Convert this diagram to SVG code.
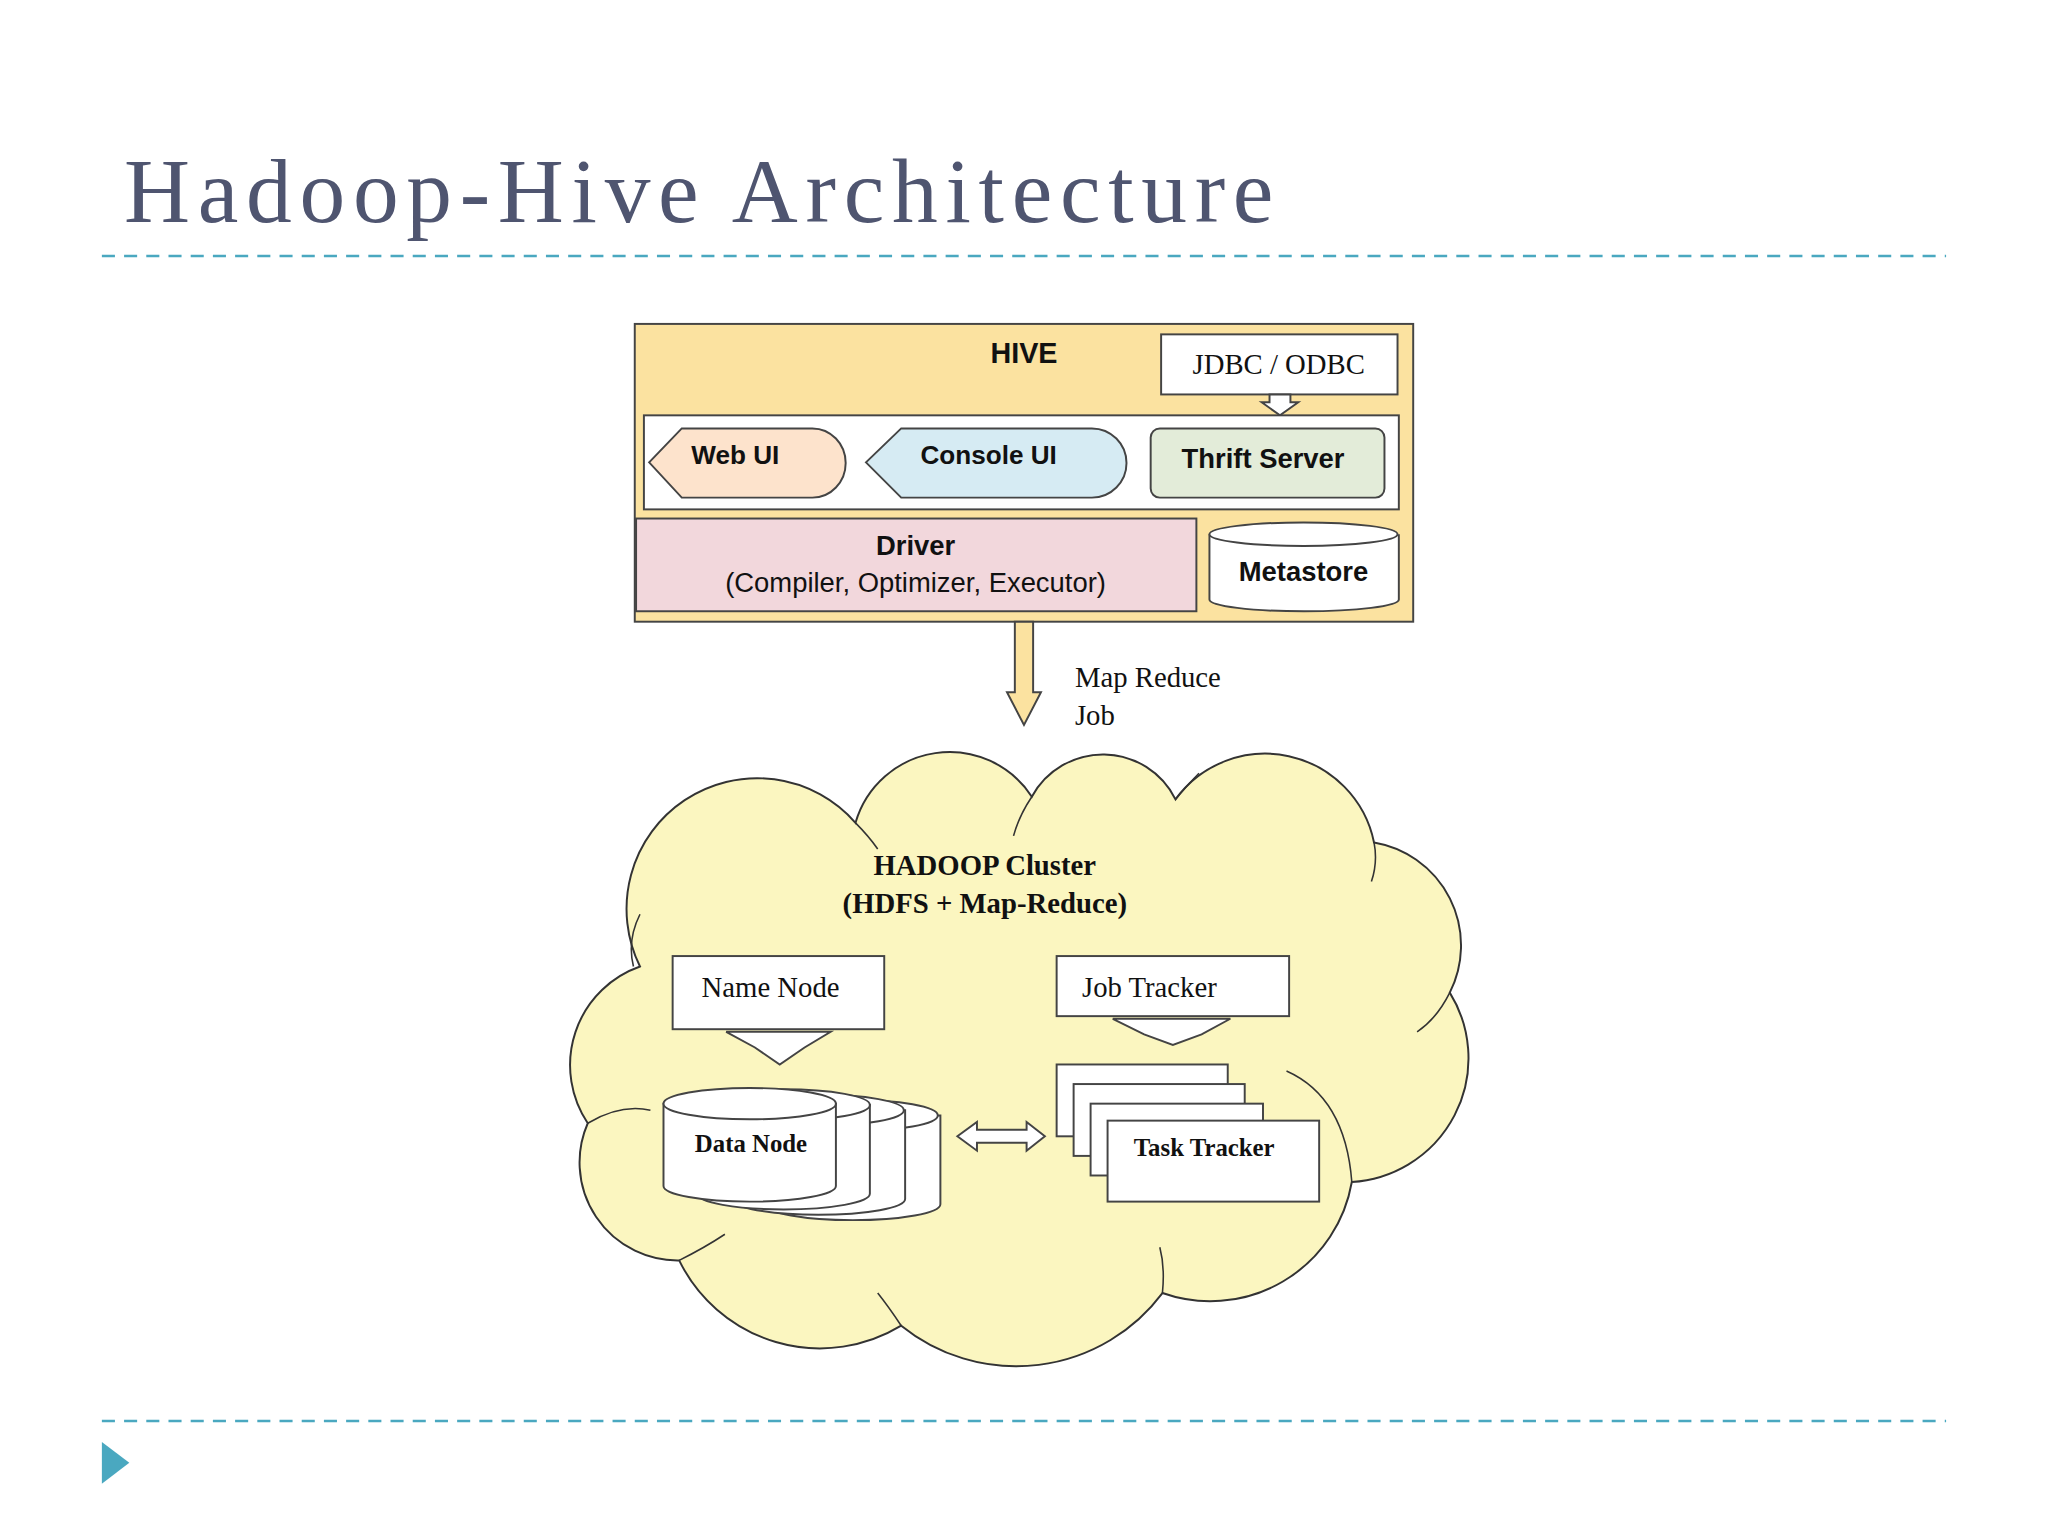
<svg xmlns="http://www.w3.org/2000/svg" width="2048" height="1536" viewBox="0 0 2048 1536">
<style>
.s{font-family:"Liberation Sans",Arial,sans-serif;fill:#111}
.r{font-family:"Liberation Serif","Times New Roman",serif;fill:#111}
.b{stroke:#444;stroke-width:1.5}
.dash{stroke:#4aa8c0;stroke-width:2;stroke-dasharray:10 7}
</style>
<rect width="2048" height="1536" fill="#fff"/>
<g transform="scale(1.3061)">
<g id="title"><text x="95" y="170" font-family="Liberation Serif,serif" font-size="70" fill="#4f5570" textLength="880" lengthAdjust="spacing">Hadoop-Hive Architecture</text>
<line class="dash" x1="78" y1="196" x2="1490" y2="196"/>
<line class="dash" x1="78" y1="1088" x2="1490" y2="1088"/>
<polygon points="78,1104 78,1136 99,1120" fill="#4aa8c0"/></g>
<g id="hive"><rect class="b" x="486" y="248" width="596" height="228" fill="#fbe2a0"/>
<text class="s" x="784" y="278" font-size="22" font-weight="bold" text-anchor="middle">HIVE</text></g>
<g id="jdbc"><rect class="b" x="889" y="256" width="181" height="46" fill="#fff"/>
<text class="r" x="979" y="286" font-size="22" text-anchor="middle">JDBC / ODBC</text>
<polygon class="b" points="972,302 988,302 988,308 994,308 980,318 966,308 972,308" fill="#fff"/></g>
<g id="ui"><rect class="b" x="493" y="318" width="578" height="72" fill="#fff"/></g>
<g id="webui"><path class="b" d="M497,354 L522,328 H622 A25,26 0 0 1 622,381 H522 Z" fill="#fde3cc"/>
<text class="s" x="563" y="355" font-size="20" font-weight="bold" text-anchor="middle">Web UI</text></g>
<g id="consoleui"><path class="b" d="M663,354 L690,328 H836 A26,26 0 0 1 836,381 H690 Z" fill="#d6ebf3"/>
<text class="s" x="757" y="355" font-size="20" font-weight="bold" text-anchor="middle">Console UI</text></g>
<g id="thrift"><rect class="b" x="881" y="328" width="179" height="53" rx="7" fill="#e3ecd9"/>
<text class="s" x="967" y="358" font-size="21" font-weight="bold" text-anchor="middle">Thrift Server</text></g>
<g id="driver"><rect class="b" x="487" y="397" width="429" height="71" fill="#f2d7dc"/>
<text class="s" x="701" y="425" font-size="21" font-weight="bold" text-anchor="middle">Driver</text>
<text class="s" x="701" y="453" font-size="21" text-anchor="middle">(Compiler, Optimizer, Executor)</text></g>
<g id="metastore"><path class="b" d="M926,409 V459 A72,9 0 0 0 1071,459 V409" fill="#fff"/><ellipse class="b" cx="998" cy="409" rx="72" ry="9" fill="#fff"/>
<text class="s" x="998" y="445" font-size="21" font-weight="bold" text-anchor="middle">Metastore</text></g>
<g id="connectors"><polygon class="b" points="777,476 791,476 791,530 797,530 784,555 771,530 777,530" fill="#fbe2a0"/>
<text class="r" x="823" y="526" font-size="22">Map Reduce</text><text class="r" x="823" y="555" font-size="22">Job</text></g>
<g id="cloud"><path d="M490,740 A100,100 0 0 1 655,630 A75,75 0 0 1 790,610 A62,62 0 0 1 900,612 A85,85 0 0 1 1052,645 A80,80 0 0 1 1110,760 A95,95 0 0 1 1035,905 A110,110 0 0 1 890,990 A140,140 0 0 1 690,1015 A120,120 0 0 1 520,965 A75,75 0 0 1 450,860 A80,80 0 0 1 490,740 Z" fill="#fbf6c0" stroke="#333" stroke-width="1.5"/>
<path d="M485,740 Q480,720 490,700 M655,630 Q665,640 672,650 M790,610 Q780,625 776,640 M900,612 Q910,600 918,592 M1052,645 Q1055,660 1050,675 M1110,760 Q1100,780 1085,790 M985,820 Q1030,840 1035,905 M890,990 Q892,970 888,955 M690,1015 Q680,1000 672,990 M520,965 Q540,955 555,945 M450,860 Q475,845 498,850" fill="none" stroke="#333" stroke-width="1.2"/>
<text class="r" x="754" y="670" font-size="22" font-weight="bold" text-anchor="middle">HADOOP Cluster</text>
<text class="r" x="754" y="699" font-size="22" font-weight="bold" text-anchor="middle">(HDFS + Map-Reduce)</text></g>
<g id="namenode"><rect class="b" x="515" y="732" width="162" height="56" fill="#fff"/>
<text class="r" x="590" y="763" font-size="22" text-anchor="middle">Name Node</text>
<polygon class="b" points="556,790 636,790 616,802 597,815 578,802" fill="#fff"/></g>
<g id="jobtracker"><rect class="b" x="809" y="732" width="178" height="46" fill="#fff"/>
<text class="r" x="880" y="763" font-size="22" text-anchor="middle">Job Tracker</text>
<polygon class="b" points="852,780 942,780 920,792 898,800 876,792" fill="#fff"/></g>
<g id="datanode">
<path class="b" d="M586,854 V922 A66,12 0 0 0 720,922 V854 Z" fill="#fff"/><ellipse class="b" cx="652" cy="854" rx="66" ry="12" fill="#fff"/>
<path class="b" d="M560,850 V918 A66,12 0 0 0 693,918 V850 Z" fill="#fff"/><ellipse class="b" cx="626" cy="850" rx="66" ry="12" fill="#fff"/>
<path class="b" d="M534,846 V914 A66,12 0 0 0 666,914 V846 Z" fill="#fff"/><ellipse class="b" cx="600" cy="846" rx="66" ry="12" fill="#fff"/>
<path class="b" d="M508,845 V908 A66,12 0 0 0 640,908 V845 Z" fill="#fff"/><ellipse class="b" cx="574" cy="845" rx="66" ry="12" fill="#fff"/>
<text class="r" x="575" y="882" font-size="19" font-weight="bold" text-anchor="middle">Data Node</text></g>
<g id="link"><polygon class="b" points="733,870 748,859 748,865 786,865 786,859 800,870 786,881 786,875 748,875 748,881" fill="#fff"/></g>
<g id="tasktracker"><rect class="b" x="809" y="815" width="131" height="55" fill="#fff"/>
<rect class="b" x="822" y="830" width="131" height="55" fill="#fff"/>
<rect class="b" x="835" y="845" width="132" height="55" fill="#fff"/>
<rect class="b" x="848" y="858" width="162" height="62" fill="#fff"/>
<text class="r" x="922" y="885" font-size="19" font-weight="bold" text-anchor="middle">Task Tracker</text></g>
</g>
</svg>
